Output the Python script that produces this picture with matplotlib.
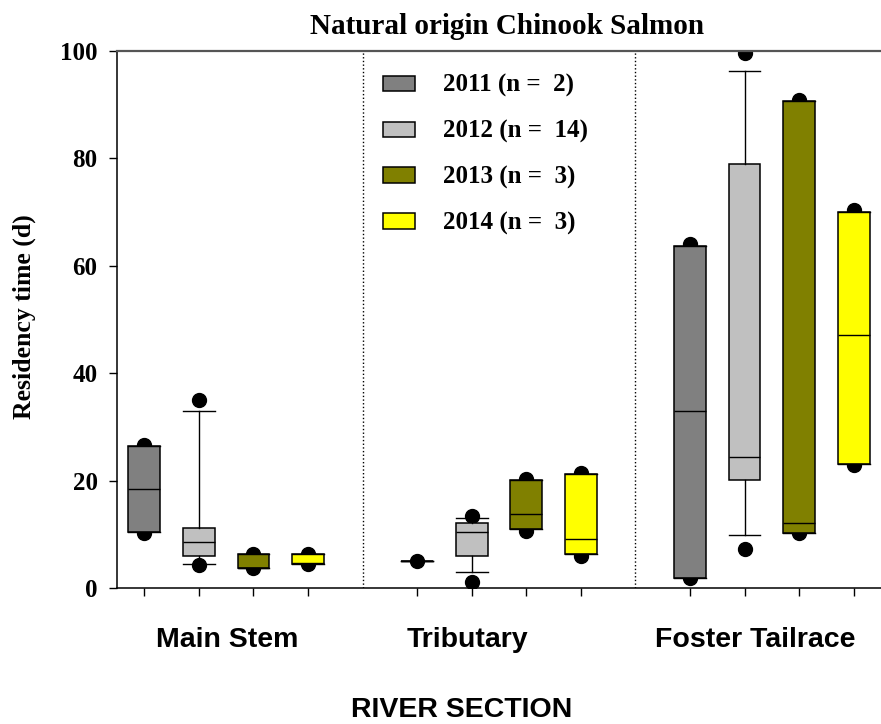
import matplotlib
matplotlib.use("Agg")
import matplotlib.pyplot as plt
from matplotlib.patches import Patch

# river sections and years
sections = ["Main Stem", "Tributary", "Foster Tailrace"]
years = ["2011 (n =  2)", "2012 (n =  14)", "2013 (n =  3)", "2014 (n =  3)"]
colors = ["#808080", "#c0c0c0", "#808000", "#ffff00"]

# box statistics per year, one value per river section
q1_2011 = [10.4, 5.0, 1.8]
med_2011 = [18.4, 5.0, 33.0]
q3_2011 = [26.4, 5.0, 63.6]
dots_2011 = [[26.6, 10.3], [5.0], [64.0, 1.9]]

q1_2012 = [6.0, 6.0, 20.2]
med_2012 = [8.6, 10.5, 24.4]
q3_2012 = [11.2, 12.2, 78.9]
lo_2012 = [4.5, 2.9, 9.8]
hi_2012 = [32.9, 13.0, 96.2]
dots_2012 = [[35.0, 4.2], [13.4, 1.2], [99.7, 7.3]]

q1_2013 = [3.7, 10.9, 10.2]
med_2013 = [3.8, 13.8, 12.2]
q3_2013 = [6.3, 20.1, 90.7]
dots_2013 = [[6.4, 3.7], [20.3, 10.7], [90.9, 10.3]]

q1_2014 = [4.5, 6.3, 23.1]
med_2014 = [4.6, 9.1, 47.1]
q3_2014 = [6.3, 21.2, 70.0]
dots_2014 = [[6.4, 4.4], [21.4, 5.9], [70.3, 23.0]]

q1 = [q1_2011, q1_2012, q1_2013, q1_2014]
med = [med_2011, med_2012, med_2013, med_2014]
q3 = [q3_2011, q3_2012, q3_2013, q3_2014]
lo = [q1_2011, lo_2012, q1_2013, q1_2014]   # no whiskers for small n
hi = [q3_2011, hi_2012, q3_2013, q3_2014]
dots = [dots_2011, dots_2012, dots_2013, dots_2014]

serif = "Liberation Serif"
sans = "Liberation Sans"

fig = plt.figure(figsize=(8.81, 7.24), dpi=100)
ax = fig.add_axes([0.1328, 0.1878, 0.8672, 0.7418])

stats, pos, fc = [], [], []
for s in range(len(sections)):
    for y in range(len(years)):
        stats.append(dict(q1=q1[y][s], med=med[y][s], q3=q3[y][s],
                          whislo=lo[y][s], whishi=hi[y][s], fliers=[]))
        pos.append(1 + s * 5 + y)
        fc.append(colors[y])
        ax.plot([pos[-1]] * len(dots[y][s]), dots[y][s], "o", color="k",
                ms=10, zorder=1)

bp = ax.bxp(stats, positions=pos, widths=0.58, capwidths=0.58,
            patch_artist=True, showfliers=False,
            boxprops=dict(edgecolor="k", linewidth=1.1),
            medianprops=dict(color="k", linewidth=1.0),
            whiskerprops=dict(color="k", linewidth=1.0),
            capprops=dict(color="k", linewidth=1.0), zorder=2)
for patch, c in zip(bp["boxes"], fc):
    patch.set_facecolor(c)
    patch.set_zorder(2)

for xv in [5, 10]:
    ax.axvline(xv, ls=":", color="k", lw=1.0, zorder=0)

ax.set_xlim(0.5, 14.5)
ax.set_ylim(0, 100)
ax.set_yticks([0, 20, 40, 60, 80, 100])
ax.set_xticks(pos)
ax.set_xticklabels([])
ax.tick_params(axis="both", direction="out", length=6, width=1.0, color="k")
ax.tick_params(axis="y", pad=8)
for lab in ax.get_yticklabels():
    lab.set_fontfamily(serif)
    lab.set_fontweight("bold")
    lab.set_fontsize(18)

ax.spines["right"].set_visible(False)
ax.spines["top"].set_color("#555555")
ax.spines["top"].set_linewidth(1.6)
ax.spines["left"].set_linewidth(1.1)
ax.spines["bottom"].set_linewidth(1.1)

handles = [Patch(facecolor=c, edgecolor="k", linewidth=1.1) for c in colors]
ax.legend(handles, years, loc="upper left", bbox_to_anchor=(0.348, 0.957),
          frameon=False, borderpad=0, borderaxespad=0,
          handlelength=1.28, handleheight=0.56, handletextpad=1.12,
          labelspacing=0.9,
          prop=dict(family=serif, weight="bold", size=18))

label_x = [2.52, 6.93, 12.19]
for xv, name in zip(label_x, sections):
    ax.text(xv, -0.097, name, transform=ax.get_xaxis_transform(),
            ha="center", va="center", fontsize=20.5, fontweight="bold",
            family=sans)

fig.text(0.524, 0.019, "RIVER SECTION", ha="center", va="center",
         fontsize=20.5, fontweight="bold", family=sans)
fig.text(0.575, 0.963, "Natural origin Chinook Salmon", ha="center",
         va="center", fontsize=21, fontweight="bold", family=serif)
fig.text(0.028, 0.562, "Residency time (d)", rotation=90, ha="center",
         va="center", fontsize=18.5, fontweight="bold", family=serif)

fig.savefig("out.png", dpi=100)
